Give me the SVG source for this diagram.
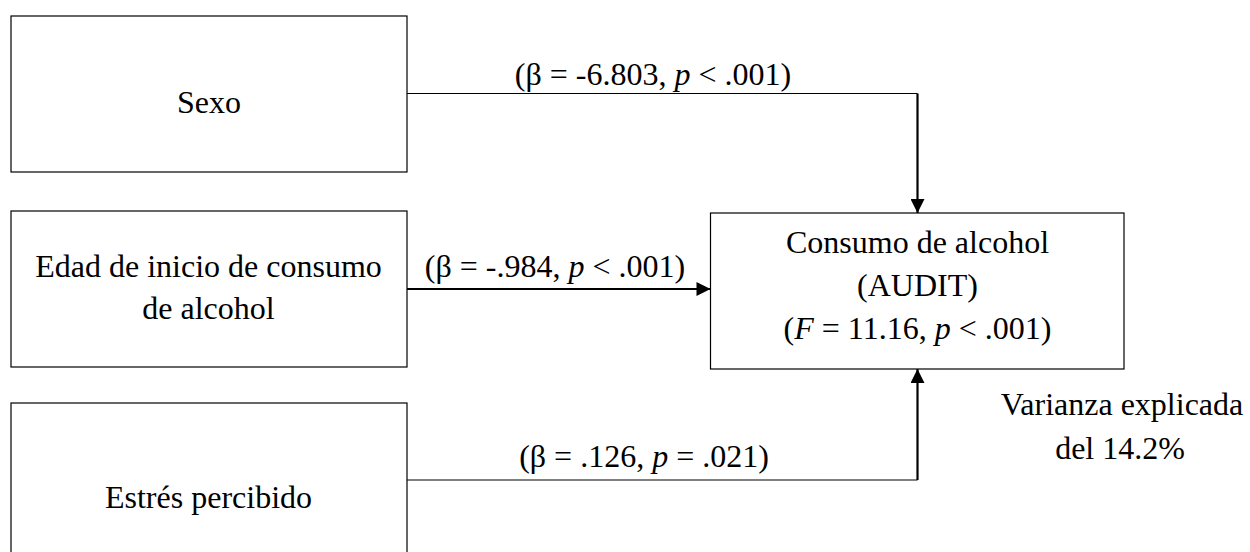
<svg xmlns="http://www.w3.org/2000/svg" width="1250" height="552" viewBox="0 0 1250 552">
  <style>
    .box { fill: #ffffff; stroke: #000000; stroke-width: 1.2; }
    .t { font-family: "Liberation Serif", "Times New Roman", serif; font-size: 32px; fill: #000000; text-anchor: middle; }
    .i { font-style: italic; }
    .thin { fill: none; stroke: #000000; stroke-width: 1.2; }
    .thick { fill: none; stroke: #000000; stroke-width: 2.2; }
  </style>
  <defs>
    <marker id="arrow" viewBox="0 0 10 10" refX="10" refY="5" markerUnits="userSpaceOnUse" markerWidth="15" markerHeight="14" orient="auto">
      <path d="M0,0 L10,5 L0,10 Z" fill="#000000"/>
    </marker>
  </defs>
  <rect width="1250" height="552" fill="#ffffff"/>

  <g id="connectors">
    <g id="edge-sexo">
      <path class="thin" d="M407,93.5 H917.5"/>
      <path class="thick" d="M917.5,93.5 V213" marker-end="url(#arrow)"/>
      <text class="t" x="653" y="85">(β = -6.803, <tspan class="i">p</tspan> &lt; .001)</text>
    </g>
    <g id="edge-edad">
      <path class="thick" d="M407,289 H710.5" marker-end="url(#arrow)"/>
      <text class="t" x="555" y="276.5">(β = -.984, <tspan class="i">p</tspan> &lt; .001)</text>
    </g>
    <g id="edge-estres">
      <path class="thin" d="M407,480 H917.5"/>
      <path class="thick" d="M917.5,480 V369" marker-end="url(#arrow)"/>
      <text class="t" x="644" y="466.5">(β = .126, <tspan class="i">p</tspan> = .021)</text>
    </g>
  </g>

  <g id="node-sexo">
    <rect class="box" x="11" y="16" width="396" height="156"/>
    <text class="t" x="209" y="113">Sexo</text>
  </g>

  <g id="node-edad">
    <rect class="box" x="11" y="211" width="396" height="156"/>
    <text class="t" x="208.5" y="277">Edad de inicio de consumo</text>
    <text class="t" x="208.5" y="319">de alcohol</text>
  </g>

  <g id="node-estres">
    <rect class="box" x="11" y="403" width="396" height="160"/>
    <text class="t" x="208.5" y="508">Estrés percibido</text>
  </g>

  <g id="node-consumo">
    <rect class="box" x="710.5" y="213" width="413.5" height="156"/>
    <text class="t" x="917.5" y="252.5">Consumo de alcohol</text>
    <text class="t" x="917.5" y="296">(AUDIT)</text>
    <text class="t" x="917.5" y="339">(<tspan class="i">F</tspan> = 11.16, <tspan class="i">p</tspan> &lt; .001)</text>
  </g>

  <g id="note-varianza">
    <text class="t" x="1122" y="415">Varianza explicada</text>
    <text class="t" x="1120" y="459">del 14.2%</text>
  </g>
</svg>
